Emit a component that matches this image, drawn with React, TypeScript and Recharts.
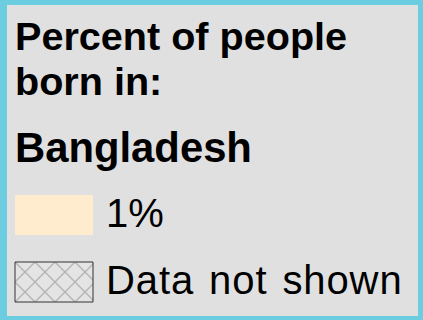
import React from 'react';
import { Surface, Rectangle, Text } from 'recharts';

const titleLines = ['Percent of people', 'born in:'];
const countries = ['Bangladesh'];
const legendLabels = ['1%', 'Data not shown'];
const legendFills = ['#ffebcd', 'url(#hatch)'];
const legendStrokes = ['none', '#333333'];

const W = 423;
const H = 320;
const FONT = '"Liberation Sans", Arial, Helvetica, sans-serif';

export default function App() {
  return (
    <div style={{ position: 'absolute', left: 0, top: 0, width: W, height: H }}>
      <Surface width={W} height={H}>
        <defs>
          <pattern id="hatch" width={20} height={20} patternUnits="userSpaceOnUse" x={15} y={262}>
            <rect x={0} y={0} width={20} height={20} fill="#e4e4e4" />
            <path d="M0,0 L20,20 M20,0 L0,20" stroke="#b4b4b4" strokeWidth={1.4} />
          </pattern>
        </defs>
        <Rectangle x={0} y={0} width={W} height={H} fill="#6dcde0" />
        <Rectangle x={7} y={5} width={411} height={311} fill="#e0e0e0" />
        {titleLines.map((t, i) => (
          <Text key={t} x={15} y={50 + i * 45} fontFamily={FONT} fontWeight="bold" fontSize={39.6} fill="#000">
            {t}
          </Text>
        ))}
        {countries.map((c, i) => (
          <Text key={c} x={15} y={162 + i * 45} fontFamily={FONT} fontWeight="bold" fontSize={41.8} fill="#000">
            {c}
          </Text>
        ))}
        {legendLabels.map((l, i) => (
          <g key={l}>
            <Rectangle
              x={15}
              y={195 + i * 67}
              width={78}
              height={40}
              fill={legendFills[i]}
              stroke={legendStrokes[i]}
              strokeWidth={1}
            />
            <Text x={106} y={227 + i * 67} fontFamily={FONT} fontSize={40} fill="#000" style={{ wordSpacing: i === 1 ? 3 : 0, letterSpacing: i === 1 ? 0.9 : 0 }}>
              {l}
            </Text>
          </g>
        ))}
      </Surface>
    </div>
  );
}
